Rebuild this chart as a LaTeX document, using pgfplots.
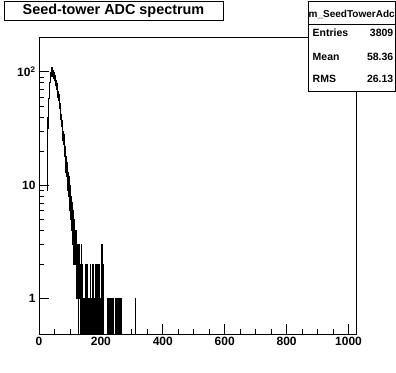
\documentclass[border=0pt]{standalone}
\usepackage{fontspec}
\setmainfont{Liberation Sans}
\usepackage{pgfplots}
\pgfplotsset{compat=1.18}
\begin{document}
\begin{tikzpicture}[x=1pt,y=1pt]
\path[use as bounding box] (0,0) rectangle (396,372);
\begin{axis}[at={(39pt,38pt)}, anchor=south west, scale only axis,
  width=317pt, height=297pt,
  xmin=0, xmax=1024, ymode=log, ymin=0.49, ymax=203,
  axis line style={line width=1pt},
  tick style={black, line width=0.8pt},
  tick pos=left, tick align=inside,
  xtick={0,200,400,600,800,1000}, xticklabels={0,200,400,600,800,1000},
  minor x tick num=3,
  ytick={1,10,100}, yticklabels={1,10,{10\textsuperscript{2}}},
  major tick length=10pt, minor tick length=5pt,
  tick label style={font=\bfseries\fontsize{12}{12}\selectfont},
  clip=true]
\addplot[const plot mark left, black, line width=1pt] coordinates {
(26,9)(27,13)(28,24)(29,40)(30,32)(31,50)(32,58)(33,72)(34,64)(35,80)
(36,84)(37,95)(38,98)(39,106)(40,92)(41,110)(42,99)(43,92)(44,106)(45,96)
(46,90)(47,103)(48,88)(49,98)(50,84)(51,93)(52,80)(53,89)(54,76)(55,80)
(56,84)(57,70)(58,79)(59,66)(60,74)(61,60)(62,67)(63,56)(64,63)(65,52)
(66,57)(67,48)(68,53)(69,44)(70,49)(71,38)(72,42)(73,33)(74,37)(75,29)
(76,34)(77,25)(78,30)(79,23)(80,28)(81,20)(82,25)(83,18)(84,22)(85,15)
(86,20)(87,13)(88,18)(89,12)(90,16)(91,10)(92,15)(93,9)(94,13)(95,8)
(96,12)(97,7)(98,11)(99,6)(100,10)(101,5)(102,9)(103,6)(104,8)(105,4)
(106,7)(107,4)(108,6)(109,3)(110,6)(111,3)(112,5)(113,2)(114,5)(115,2)
(116,4)(117,3)(118,4)(119,2)(120,4)(121,1)(122,3)(123,2)(124,3)(125,1)
(126,3)(127,2)(128,0.1)(129,2)(130,3)(131,1)(132,2)(133,0.1)(134,2)(135,1)
(136,3)(137,1)(138,0.1)(139,2)(140,1)(141,2)(142,0.1)(143,1)(144,1)(145,0.1)
(146,1)(147,1)(148,0.1)(149,2)(150,1)(151,0.1)(152,2)(153,1)(154,0.1)(155,2)
(156,1)(157,0.1)(158,1)(159,1)(160,0.1)(161,1)(162,0.1)(163,1)(164,1)(165,2)
(166,0.1)(167,1)(168,0.1)(169,1)(170,0.1)(171,1)(172,2)(173,0.1)(174,1)(175,2)
(176,0.1)(177,1)(178,0.1)(179,1)(180,0.1)(181,1)(182,0.1)(184,2)(185,1)
(186,0.1)(187,2)(188,0.1)(189,1)(190,2)(191,0.1)(193,2)(194,0.1)
(200,1)(201,0.1)(203,3)(204,0.1)(206,2)(207,0.1)
(220,1)(221,0.1)(222,1)(224,0.1)(225,1)(226,0.1)(227,1)(228,0.1)(229,1)
(231,0.1)(233,1)(234,0.1)(235,1)(236,0.1)(238,1)(239,0.1)(240,1)(241,0.1)
(246,1)(247,0.1)(248,1)(249,0.1)(251,1)(252,0.1)(253,1)(254,0.1)(256,1)
(257,0.1)(259,1)(260,0.1)(261,1)(262,0.1)(264,1)(265,0.1)
(311,1)(312,0.1)(1024,0.1)
};
\end{axis}
% title box
\draw[line width=1pt] (4,351) rectangle (223,370);
\node[anchor=base, inner sep=0pt, font=\bfseries\fontsize{14.4}{14.4}\selectfont] at (113.5,357.5) {Seed-tower ADC spectrum};
% stats box
\draw[line width=1pt, fill=white] (308,280) rectangle (395.5,370.5);
\draw[line width=1pt] (308,347) -- (395.5,347);
\node[inner sep=0pt, font=\bfseries\fontsize{10}{10}\selectfont] at (351.7,357.5) {m\_SeedTowerAdc};
\node[anchor=west, inner sep=0pt, font=\bfseries\fontsize{10.5}{10.5}\selectfont] at (312.5,339.5) {Entries};
\node[anchor=east, inner sep=0pt, font=\bfseries\fontsize{10.5}{10.5}\selectfont] at (393.5,339.5) {3809};
\node[anchor=west, inner sep=0pt, font=\bfseries\fontsize{10.5}{10.5}\selectfont] at (312.5,315) {Mean};
\node[anchor=east, inner sep=0pt, font=\bfseries\fontsize{10.5}{10.5}\selectfont] at (393.5,315) {58.36};
\node[anchor=west, inner sep=0pt, font=\bfseries\fontsize{10.5}{10.5}\selectfont] at (312.5,293) {RMS};
\node[anchor=east, inner sep=0pt, font=\bfseries\fontsize{10.5}{10.5}\selectfont] at (393.5,293) {26.13};
\end{tikzpicture}
\end{document}
